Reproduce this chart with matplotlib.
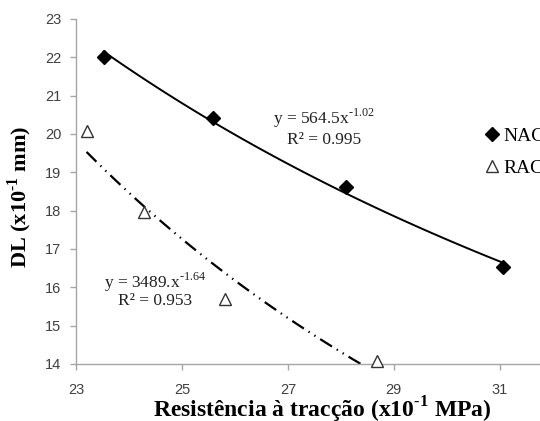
import numpy as np
import matplotlib
matplotlib.use("Agg")
import matplotlib.pyplot as plt

# tensile strength (x10^-1 MPa) vs DL (x10^-1 mm)
nac_x = [23.52, 25.59, 28.09, 31.06]
nac_y = [22.0, 20.42, 18.62, 16.52]
rac_x = [23.2, 24.28, 25.81, 28.68]
rac_y = [20.08, 17.97, 15.69, 14.08]

nac_eq = "y = 564.5x$^{\\mathregular{\u20101.02}}$"
nac_r2 = "R² = 0.995"
rac_eq = "y = 3489.x$^{\\mathregular{\u20101.64}}$"
rac_r2 = "R² = 0.953"

x_ticks = [23, 25, 27, 29, 31]
y_ticks = list(range(14, 24))

plt.rcParams["mathtext.fontset"] = "custom"
plt.rcParams["mathtext.rm"] = "Liberation Serif"
plt.rcParams["mathtext.bf"] = "Liberation Serif:bold"
plt.rcParams["lines.scale_dashes"] = False

serif = "Liberation Serif"
axis_grey = "#a6a6a6"


def power_fit(x, y):
    # least squares in log space, like a spreadsheet power trendline
    b, ln_a = np.polyfit(np.log(x), np.log(y), 1)
    return np.exp(ln_a), b


fig = plt.figure(figsize=(5.4, 4.21), dpi=100)
ax = fig.add_axes([0.1407, 0.1354, 0.883, 0.8195])

a, b = power_fit(nac_x, nac_y)
xs = np.linspace(min(nac_x), max(nac_x), 100)
ax.plot(xs, a * xs ** b, color="black", lw=1.4)

a, b = power_fit(rac_x, rac_y)
xs = np.linspace(min(rac_x), max(rac_x), 100)
ax.plot(xs, a * xs ** b, color="black", lw=1.6, dashes=(10, 4, 1, 4, 1, 4))

h1, = ax.plot(nac_x, nac_y, ls="none", marker="D", ms=7.5, color="black",
              clip_on=False, zorder=3)
h2, = ax.plot(rac_x, rac_y, ls="none", marker="^", ms=9, mfc="white",
              mec="#333333", mew=1.0, clip_on=False, zorder=3)

ax.text(27.68, 20.42, nac_eq, family=serif, fontsize=12.5, ha="center",
        va="center", color="#222222")
ax.text(27.68, 19.84, nac_r2, family=serif, fontsize=12.5, ha="center",
        va="center", color="#222222")
ax.text(24.49, 16.13, rac_eq, family=serif, fontsize=12.5, ha="center",
        va="center", color="#222222")
ax.text(24.49, 15.64, rac_r2, family=serif, fontsize=12.5, ha="center",
        va="center", color="#222222")

ax.set_xlim(23, 32)
ax.set_ylim(14, 23)
ax.set_xticks(x_ticks)
ax.set_yticks(y_ticks)

for s in ["top", "right"]:
    ax.spines[s].set_visible(False)
for s in ["left", "bottom"]:
    ax.spines[s].set_color(axis_grey)
    ax.spines[s].set_linewidth(1.0)

ax.tick_params(axis="both", colors=axis_grey, length=4.5, width=1.0,
               labelcolor="#404040", labelsize=10.5)
ax.tick_params(axis="x", pad=9)
ax.tick_params(axis="y", pad=6)
for lab in ax.get_xticklabels() + ax.get_yticklabels():
    lab.set_family("Liberation Sans")

ax.set_xlabel("Resistência à tracção (x10$^{\\mathbf{\u20101}}$ MPa)",
              family=serif, fontsize=17, fontweight="bold")
ax.set_ylabel("DL (x10$^{\\mathbf{\u20101}}$ mm)", family=serif, fontsize=16,
              fontweight="bold")
ax.xaxis.set_label_coords(0.516, -0.09)
ax.yaxis.set_label_coords(-0.088, 0.484)

ax.legend([h1, h2], ["NAC", "RAC"], loc="upper left",
          bbox_to_anchor=(0.896, 0.698), bbox_transform=fig.transFigure,
          frameon=False, borderpad=0, borderaxespad=0, handlelength=0.8,
          handletextpad=0.2, labelspacing=0.75,
          prop={"family": serif, "size": 14})

fig.savefig("out.png", dpi=100)
